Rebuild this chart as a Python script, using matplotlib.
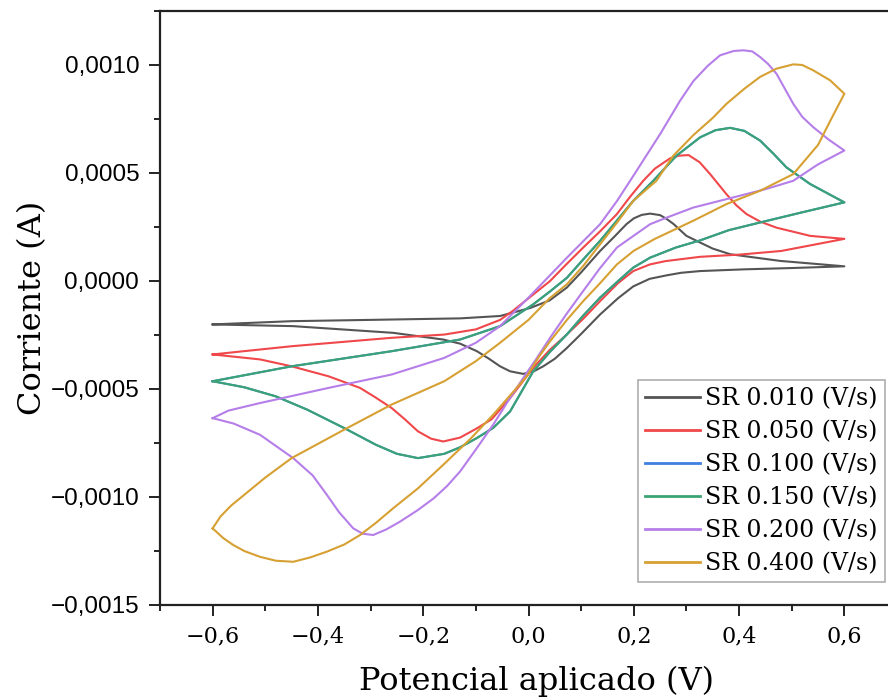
import matplotlib
matplotlib.use("Agg")
import matplotlib.pyplot as plt
from matplotlib.ticker import MultipleLocator, FuncFormatter

# potential (V) / current (A), one CV loop per scan rate:
# forward branch -0.6 -> 0.6, then reverse branch 0.6 -> -0.6
e_010 = [-0.60, -0.45, -0.30, -0.13, -0.054, 0.003, 0.04, 0.073, 0.10, 0.136, 0.165, 0.186, 0.20, 0.215, 0.231, 0.25, 0.262,
         0.275, 0.30, 0.326, 0.35, 0.383, 0.478, 0.60,
         0.50, 0.41, 0.326, 0.29, 0.262, 0.23, 0.199, 0.17, 0.136, 0.10, 0.073, 0.05, 0.028, 0.01, -0.01, -0.035, -0.054,
         -0.075, -0.098, -0.13, -0.162, -0.257, -0.447, -0.60]
i_010 = [-0.000201, -0.000186, -0.000180, -0.000173, -0.000162, -0.000125, -0.00009, -0.00003, 0.00004, 0.000139, 0.00021,
         0.000263, 0.00029, 0.000306, 0.000312, 0.000305, 0.000288, 0.000265, 0.000209, 0.000178, 0.00015, 0.000124,
         0.000093, 0.000068,
         0.000060, 0.000054, 0.000046, 0.000038, 0.000026, 0.00001, -0.000025, -0.00008, -0.000155, -0.000245, -0.00031,
         -0.00036, -0.000395, -0.000418, -0.00043, -0.000418, -0.000395, -0.00036, -0.000325, -0.00029, -0.000271,
         -0.00024, -0.000209, -0.000201]

e_050 = [-0.60, -0.45, -0.26, -0.16, -0.10, -0.054, -0.03, 0.00, 0.041, 0.073, 0.104, 0.136, 0.168, 0.193, 0.218, 0.24, 0.269,
         0.285, 0.304, 0.325, 0.345, 0.36, 0.376, 0.395, 0.414, 0.44, 0.471, 0.535, 0.60,
         0.48, 0.40, 0.326, 0.26, 0.231, 0.199, 0.17, 0.136, 0.104, 0.073, 0.04, 0.009, -0.035, -0.07, -0.10, -0.13, -0.162,
         -0.185, -0.21, -0.235, -0.26, -0.29, -0.32, -0.38, -0.45, -0.51, -0.60]
i_050 = [-0.00034, -0.000302, -0.000263, -0.000248, -0.000224, -0.00018, -0.000139, -0.00008, 0.0, 0.00008, 0.000155,
         0.00023, 0.00031, 0.00039, 0.000464, 0.00052, 0.000568, 0.00058, 0.000583, 0.00055, 0.000495, 0.00045, 0.000402,
         0.00035, 0.00031, 0.000275, 0.000247, 0.000209, 0.000195,
         0.000139, 0.000122, 0.000112, 0.000092, 0.000077, 0.000046, -0.00001, -0.000093, -0.000175, -0.000247, -0.00032,
         -0.000402, -0.000542, -0.00064, -0.000685, -0.000725, -0.000743, -0.00073, -0.000696, -0.00064, -0.000588,
         -0.00054, -0.000495, -0.000441, -0.000395, -0.000363, -0.00034]

e_150 = [-0.60, -0.45, -0.26, -0.13, -0.054, 0.009, 0.04, 0.073, 0.104, 0.136, 0.168, 0.199, 0.237, 0.281, 0.326, 0.355,
         0.383, 0.41, 0.44, 0.465, 0.49, 0.535, 0.60,
         0.52, 0.44, 0.38, 0.326, 0.28, 0.231, 0.199, 0.168, 0.136, 0.104, 0.073, 0.04, 0.009, -0.035, -0.067, -0.098,
         -0.13, -0.16, -0.21, -0.25, -0.29, -0.35, -0.42, -0.48, -0.54, -0.60]
i_150 = [-0.000464, -0.000395, -0.000325, -0.000271, -0.000209, -0.000108, -0.00005, 0.000015, 0.0001, 0.000186, 0.00028,
         0.000371, 0.000464, 0.00058, 0.000665, 0.000698, 0.000709, 0.000695, 0.00065, 0.00059, 0.000526, 0.000449,
         0.000364,
         0.000318, 0.000271, 0.000235, 0.000188, 0.000155, 0.000108, 0.000062, -0.000005, -0.000077, -0.00016, -0.000247,
         -0.00033, -0.000418, -0.000604, -0.00068, -0.000727, -0.00077, -0.0008, -0.00082, -0.0008, -0.000758, -0.000681,
         -0.000596, -0.000534, -0.000492, -0.000464]

# 0.100 V/s lies under the 0.150 V/s trace in the picture
e_100 = list(e_150)
i_100 = list(i_150)

e_200 = [-0.60, -0.57, -0.51, -0.38, -0.26, -0.16, -0.10, -0.054, 0.00, 0.073, 0.136, 0.168, 0.20, 0.25, 0.288, 0.313, 0.34,
         0.364, 0.39, 0.408, 0.425, 0.44, 0.455, 0.471, 0.487, 0.503, 0.52, 0.541, 0.57, 0.60,
         0.55, 0.503, 0.45, 0.389, 0.313, 0.262, 0.231, 0.20, 0.168, 0.136, 0.104, 0.073, 0.041, 0.015, -0.01, -0.04,
         -0.067, -0.10, -0.13, -0.155, -0.18, -0.21, -0.244, -0.27, -0.295, -0.315, -0.333, -0.36, -0.383, -0.41,
         -0.447, -0.51, -0.56, -0.60]
i_200 = [-0.000635, -0.0006, -0.000565, -0.000495, -0.000433, -0.000356, -0.000286, -0.000209, -0.000077, 0.000108,
         0.000263, 0.00037, 0.00049, 0.00068, 0.000835, 0.000925, 0.000995, 0.001045, 0.001065, 0.001068, 0.001063,
         0.001037, 0.001005, 0.00096, 0.00089, 0.00082, 0.00076, 0.000712, 0.000655, 0.000604,
         0.00054, 0.000464, 0.000425, 0.000387, 0.00034, 0.000293, 0.000263, 0.00021, 0.000155, 0.00006, -0.000046,
         -0.00015, -0.000263, -0.00036, -0.000449, -0.00056, -0.000665, -0.00078, -0.000882, -0.00095, -0.001006,
         -0.00106, -0.001114, -0.00115, -0.001176, -0.00117, -0.001145, -0.00107, -0.00099, -0.0009, -0.00082,
         -0.000712, -0.00066, -0.000635]

e_400 = [-0.60, -0.585, -0.565, -0.54, -0.50, -0.45, -0.35, -0.26, -0.16, -0.10, -0.054, 0.00, 0.04, 0.073, 0.104, 0.136,
         0.168, 0.199, 0.243, 0.275, 0.313, 0.35, 0.376, 0.41, 0.44, 0.471, 0.503, 0.52, 0.541, 0.573, 0.60,
         0.575, 0.55, 0.503, 0.44, 0.376, 0.313, 0.24, 0.20, 0.168, 0.136, 0.104, 0.073, 0.041, 0.02, -0.003, -0.035,
         -0.067, -0.11, -0.162, -0.21, -0.257, -0.29, -0.32, -0.35, -0.383, -0.415, -0.447, -0.48, -0.51, -0.54, -0.561,
         -0.58, -0.60]
i_400 = [-0.001145, -0.00109, -0.00104, -0.00099, -0.00091, -0.00082, -0.000688, -0.000572, -0.000464, -0.000371,
         -0.000286, -0.00018, -0.00008, -0.000015, 0.00007, 0.00017, 0.00027, 0.000371, 0.000464, 0.00058, 0.000675,
         0.000755, 0.00082, 0.00089, 0.000945, 0.000983, 0.001003, 0.001, 0.000975, 0.000929, 0.000867,
         0.00075, 0.00063, 0.000495, 0.000418, 0.000356, 0.000279, 0.000195, 0.00014, 0.000077, -0.00001, -0.000093,
         -0.00018, -0.000279, -0.00035, -0.00044, -0.00053, -0.000619, -0.00073, -0.000851, -0.00096, -0.001052,
         -0.00112, -0.001176, -0.00122, -0.001253, -0.00128, -0.0013, -0.001295, -0.001277, -0.00125, -0.001222,
         -0.00119, -0.001145]

labels = ["SR 0.010 (V/s)", "SR 0.050 (V/s)", "SR 0.100 (V/s)", "SR 0.150 (V/s)", "SR 0.200 (V/s)", "SR 0.400 (V/s)"]
colors = ["#555555", "#f0474a", "#3f7fe0", "#3ba373", "#b57ee8", "#d6a032"]
series = [(e_010, i_010), (e_050, i_050), (e_100, i_100), (e_150, i_150), (e_200, i_200), (e_400, i_400)]

serif = ["DejaVu Serif"]

fig = plt.figure(figsize=(8.88, 7.0), dpi=100)
ax = fig.add_axes([160 / 888, 95 / 700, 737 / 888, 594 / 700])

for (e, i), lab, c in zip(series, labels, colors):
    ax.plot(e, i, color=c, lw=1.5, label=lab, solid_joinstyle="round")

ax.set_xlim(-0.7, 0.7)
ax.set_ylim(-0.0015, 0.00125)

ax.xaxis.set_major_locator(MultipleLocator(0.2))
ax.xaxis.set_minor_locator(MultipleLocator(0.1))
ax.yaxis.set_major_locator(MultipleLocator(0.0005))
ax.yaxis.set_minor_locator(MultipleLocator(0.00025))


def fmt_x(v, pos):
    return f"{v:.1f}".replace(".", ",").replace("-", "\u2212")


def fmt_y(v, pos):
    if abs(v) < 1e-9:
        v = 0.0
    return f"{v:.4f}".replace(".", ",").replace("-", "\u2212")


ax.xaxis.set_major_formatter(FuncFormatter(fmt_x))
ax.yaxis.set_major_formatter(FuncFormatter(fmt_y))

ax.tick_params(which="major", direction="out", length=8, width=1.4, top=False, right=False, color="#222222")
ax.tick_params(which="minor", direction="out", length=4, width=1.4, top=False, right=False, color="#222222")
ax.tick_params(axis="x", pad=7)
ax.tick_params(axis="y", pad=7)
for lab in ax.get_xticklabels():
    lab.set_family(serif)
    lab.set_fontsize(16)
for lab in ax.get_yticklabels():
    lab.set_family(["Liberation Sans"])
    lab.set_fontsize(17.5)

for sp in ax.spines.values():
    sp.set_linewidth(1.6)
    sp.set_color("#222222")

ax.set_xlabel("Potencial aplicado (V)", family=serif, fontsize=23)
ax.set_ylabel("Corriente (A)", family=serif, fontsize=23)
ax.xaxis.set_label_coords(0.511, -0.102)
ax.yaxis.set_label_coords(-0.152, 0.5)

leg = fig.legend(loc="lower right", bbox_to_anchor=(885 / 888, 118 / 700), bbox_transform=fig.transFigure,
                 prop={"family": serif, "size": 17}, frameon=True, fancybox=False, edgecolor="#999999",
                 handlelength=2.3, handletextpad=0.25, labelspacing=0.42, borderpad=0.3, borderaxespad=0)
leg.get_frame().set_linewidth(1.2)
for ln in leg.get_lines():
    ln.set_linewidth(2.0)

fig.savefig("out.png", dpi=100)
